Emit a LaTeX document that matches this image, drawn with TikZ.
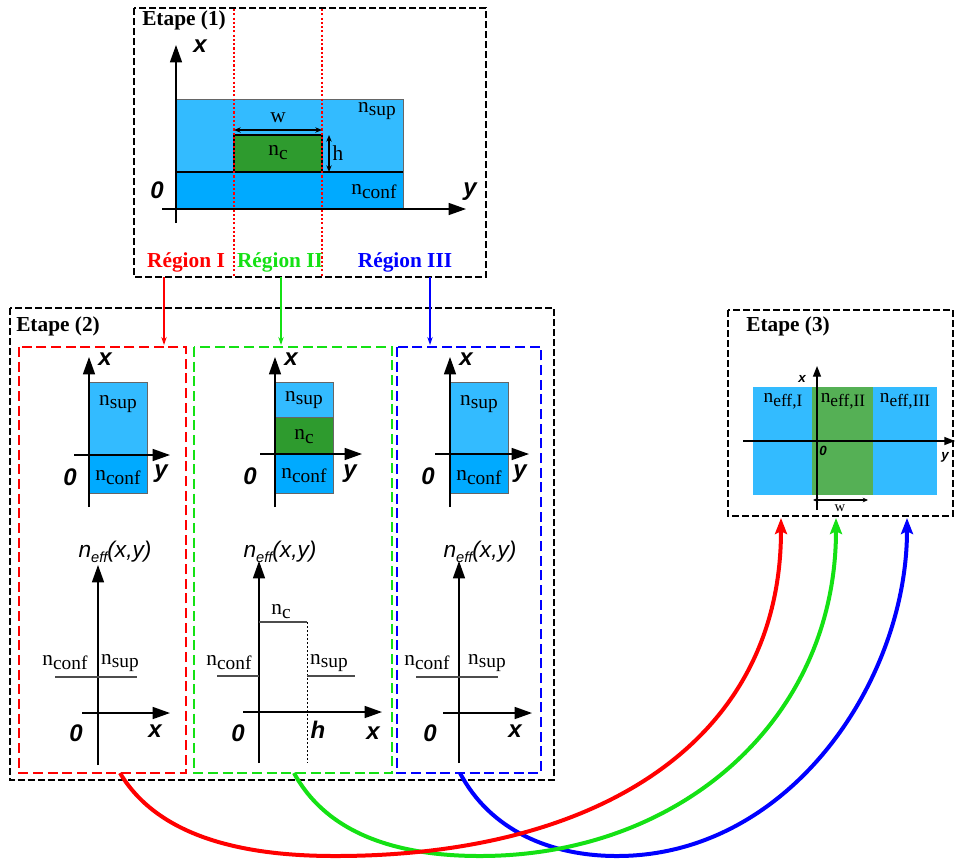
\documentclass[tikz,border=0pt]{standalone}
\usepackage{fontspec}
\setmainfont{Liberation Serif}
\newfontfamily\axfont{Liberation Sans}
\usetikzlibrary{arrows.meta}
\definecolor{supb}{RGB}{51,187,255}
\definecolor{confb}{RGB}{0,170,255}
\definecolor{cgreen}{RGB}{46,155,46}
\definecolor{lgreen}{RGB}{85,176,85}
\definecolor{rred}{RGB}{255,0,0}
\definecolor{ggreen}{RGB}{20,225,20}
\definecolor{bblue}{RGB}{0,0,255}
\newcommand\nsb[1]{n\raisebox{-0.4ex}{\fontsize{14.5}{15}\selectfont #1}}
\newcommand\nsbs[1]{n\raisebox{-0.4ex}{\fontsize{13}{13}\selectfont #1}}
\newcommand\neffl{{\axfont\itshape n\raisebox{-0.45ex}{\fontsize{11}{11}\selectfont eff}(x,y)}}
\tikzset{
  etbox/.style={draw=black, line width=1.7pt, dash pattern=on 5pt off 2.5pt},
  regbox/.style={line width=2.2pt, dash pattern=on 7.5pt off 3.5pt},
  ax/.style={line width=1.1pt, -{Triangle[length=13pt,width=9pt]}},
  axs/.style={line width=1pt, -{Triangle[length=8pt,width=6pt]}},
  axl/.style={font=\axfont\bfseries\itshape\fontsize{18}{18}\selectfont, inner sep=0},
  axls/.style={font=\axfont\bfseries\itshape\fontsize{10}{10}\selectfont, inner sep=0},
  lab/.style={font=\fontsize{16}{18}\selectfont, inner sep=0},
  labs/.style={font=\fontsize{14.5}{16}\selectfont, inner sep=0},
  ttl/.style={font=\bfseries\fontsize{16}{18}\selectfont, inner sep=0},
  lvl/.style={draw=black!70, line width=1.1pt},
  layer/.style={draw=black!60, line width=0.6pt},
  dim/.style={line width=1pt, {Stealth[length=5pt,width=4pt]}-{Stealth[length=5pt,width=4pt]}},
  down/.style={line width=1.1pt, -{Stealth[length=6pt,width=4pt]}},
  big/.style={line width=3pt, -{Stealth[length=12pt,width=9pt,inset=2pt]}},
}
\begin{document}
\begin{tikzpicture}[x=0.75pt,y=-0.75pt]
\path[use as bounding box] (0,0) rectangle (956,858);

% ---------------- Etape 1 ----------------
\draw[etbox] (134,8) rectangle (486,277);
\node[ttl, anchor=west] (t1) at (142,20) {Etape (1)};
\fill[supb] (176,99) rectangle (403,172);
\fill[confb] (176,172) rectangle (403,209);
\draw[layer] (176,99) rectangle (403,209);
\fill[cgreen] (234,135) rectangle (322,172);
\draw[black, line width=1pt] (234,172) -- (234,135) -- (322,135) -- (322,172);
\draw[black, line width=1.3pt] (176,172) -- (403,172);
\draw[ax] (176,223) -- (176,45);
\draw[ax] (162,209) -- (466,209);
\node[axl] (x1) at (200,46) {x};
\node[axl] (y1) at (470,192) {y};
\node[axl] (o1) at (157,190) {0};
\node[lab] (nsup1) at (377,111) {\nsb{sup}};
\node[lab] (nc1) at (278,153) {\nsb{c}};
\node[lab] (nconf1) at (374,192) {\nsb{conf}};
\draw[red, line width=2pt, dash pattern=on 1.6pt off 1.6pt] (234,9) -- (234,276);
\draw[red, line width=2pt, dash pattern=on 1.6pt off 1.6pt] (322,9) -- (322,276);
\draw[dim] (234,130) -- (322,130);
\node[lab] (w1) at (278,118) {w};
\draw[dim] (329,135) -- (329,172);
\node[lab] (h1) at (338,153) {h};
\node[ttl, text=rred] (rI) at (186,262) {Région I};
\node[ttl, text=ggreen] (rII) at (280,262) {Région II};
\node[ttl, text=bblue] (rIII) at (405,262) {Région III};

% ---------------- Etape 2 ----------------
\draw[etbox] (10,308) rectangle (554,780);
\node[ttl, anchor=west] (t2) at (16,326) {Etape (2)};
\draw[regbox, rred] (19,347) rectangle (186,773);
\draw[regbox, ggreen] (194,347) rectangle (392,773);
\draw[regbox, bblue] (397,347) rectangle (541,773);
\coordinate (aI) at (164,277);
\coordinate (aII) at (281,277);
\coordinate (aIII) at (430,277);
\draw[down, rred] (aI) -- (164,345);
\draw[down, ggreen] (aII) -- (281,345);
\draw[down, bblue] (aIII) -- (430,345);

% Region I schematic
\fill[supb] (89,382) rectangle (147,455);
\fill[confb] (89,455) rectangle (147,493);
\draw[layer] (89,382) rectangle (147,493);
\draw[ax] (89,507) -- (89,357);
\draw[ax] (74,455) -- (170,455);
\node[axl] (xa) at (105,359) {x};
\node[axl] (ya) at (161,474) {y};
\node[axl] (oa) at (70,477) {0};
\node[lab] (sa) at (118,404) {\nsb{sup}};
\node[lab] (ca) at (118,478) {\nsb{conf}};
% Region I graph
\draw[ax] (98,765) -- (98,565);
\node[lab, font=\fontsize{17}{17}\selectfont] (na) at (115,552) {\neffl};
\draw[lvl] (55,677) -- (137,677);
\node[lab] (la1) at (65,663) {\nsb{conf}};
\node[lab] (la2) at (120,663) {\nsb{sup}};
\draw[ax] (82,713) -- (170,713);
\node[axl] (oga) at (76,733) {0};
\node[axl] (xga) at (155,731) {x};

% Region II schematic
\fill[supb] (275,382) rectangle (333,417);
\fill[cgreen] (275,417) rectangle (333,454);
\fill[confb] (275,454) rectangle (333,493);
\draw[layer] (275,382) rectangle (333,493);
\draw[layer] (275,417) -- (333,417);
\draw[ax] (275,507) -- (275,357);
\draw[ax] (260,454) -- (362,454);
\node[axl] (xb) at (291,359) {x};
\node[axl] (yb) at (350,474) {y};
\node[axl] (ob) at (250,476) {0};
\node[lab] (sb) at (304,400) {\nsb{sup}};
\node[lab] (cb) at (304,437) {\nsb{c}};
\node[lab] (fb) at (304,476) {\nsb{conf}};
% Region II graph
\draw[ax] (259,763) -- (259,561);
\node[lab, font=\fontsize{17}{17}\selectfont] (nb) at (280,552) {\neffl};
\draw[lvl] (259,622) -- (307,622);
\draw[black, line width=0.7pt, dash pattern=on 1.5pt off 1.5pt] (307,622) -- (307,763);
\draw[lvl] (217,676) -- (259,676);
\draw[lvl] (307,676) -- (355,676);
\node[lab] (lb0) at (281,612) {\nsb{c}};
\node[lab] (lb1) at (229,663) {\nsb{conf}};
\node[lab] (lb2) at (329,663) {\nsb{sup}};
\draw[ax] (243,712) -- (382,712);
\node[axl] (ogb) at (238,733) {0};
\node[axl] (hgb) at (318,730) {h};
\node[axl] (xgb) at (373,733) {x};

% Region III schematic
\fill[supb] (450,382) rectangle (508,455);
\fill[confb] (450,455) rectangle (508,493);
\draw[layer] (450,382) rectangle (508,493);
\draw[ax] (450,507) -- (450,357);
\draw[ax] (435,454) -- (529,454);
\node[axl] (xc) at (466,359) {x};
\node[axl] (yc) at (520,474) {y};
\node[axl] (oc) at (428,476) {0};
\node[lab] (sc) at (479,404) {\nsb{sup}};
\node[lab] (cc) at (479,478) {\nsb{conf}};
% Region III graph
\draw[ax] (459,763) -- (459,561);
\node[lab, font=\fontsize{17}{17}\selectfont] (nc) at (480,552) {\neffl};
\draw[lvl] (416,677) -- (498,677);
\node[lab] (lc1) at (427,663) {\nsb{conf}};
\node[lab] (lc2) at (487,663) {\nsb{sup}};
\draw[ax] (443,713) -- (532,713);
\node[axl] (ogc) at (430,733) {0};
\node[axl] (xgc) at (515,731) {x};

% ---------------- Etape 3 ----------------
\draw[etbox] (728,310) rectangle (953,516);
\node[ttl, anchor=west] (t3) at (746,326) {Etape (3)};
\fill[supb] (753,387) rectangle (812,495);
\fill[lgreen] (812,387) rectangle (873,495);
\fill[supb] (873,387) rectangle (937,495);
\draw[axs] (817,510) -- (817,366);
\draw[axs] (743,441) -- (955,441);
\node[axls] (x3) at (802,379) {x};
\node[axls] (y3) at (945,457) {y};
\node[axls] (o3) at (823,451) {0};
\node[labs] (e1) at (783,401) {\nsbs{eff,I}};
\node[labs] (e2) at (843,401) {\nsbs{eff,II}};
\node[labs] (e3) at (905,401) {\nsbs{eff,III}};
\draw[line width=0.8pt, {Stealth[length=4pt,width=3.5pt]}-{Stealth[length=4pt,width=3.5pt]}] (813,500) -- (868,500);
\node[labs, font=\fontsize{11}{12}\selectfont] (w3) at (840,508) {w};

% ---------------- curves ----------------
\coordinate (rs) at (120,773);
\coordinate (gs) at (294,773);
\coordinate (bs) at (460,773);
\coordinate (re) at (781,518);
\coordinate (ge) at (836,518);
\coordinate (be) at (907,518);
\draw[big, bblue] (bs) .. controls (490,830) and (550,856) .. (617,856) .. controls (790,856) and (907,680) .. (be);
\draw[big, ggreen] (gs) .. controls (325,830) and (390,856) .. (480,856) .. controls (680,856) and (836,720) .. (ge);
\draw[big, rred] (rs) .. controls (160,840) and (250,856) .. (335,856) .. controls (600,856) and (781,740) .. (re);
\end{tikzpicture}
\end{document}
